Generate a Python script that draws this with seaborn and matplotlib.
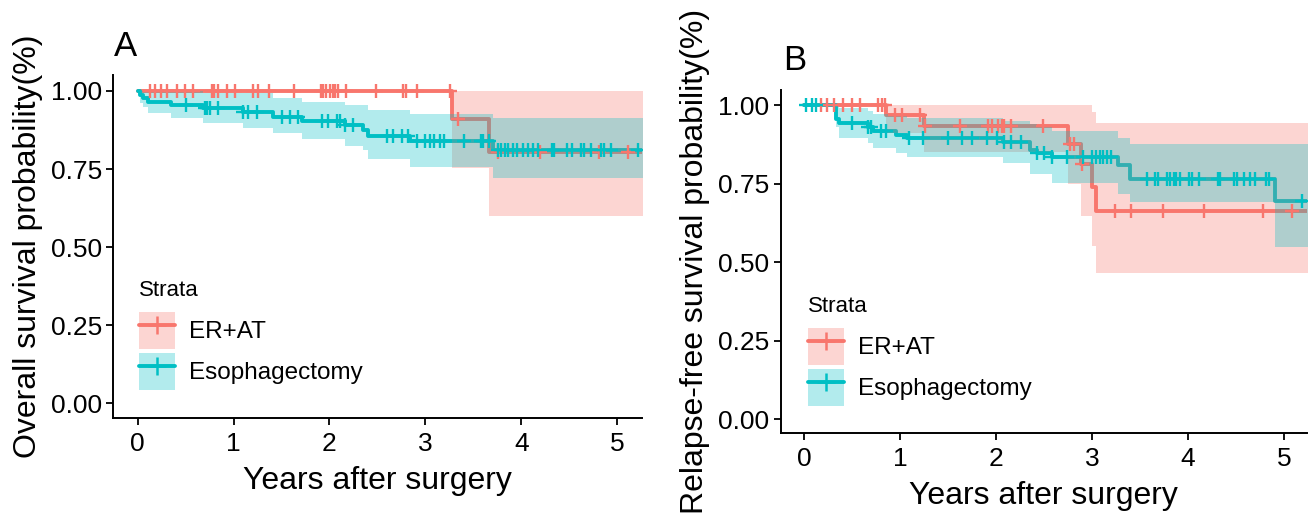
import numpy as np
import pandas as pd
import matplotlib
matplotlib.use("Agg")
import matplotlib.pyplot as plt
import seaborn as sns
from matplotlib.patches import Patch
from matplotlib.lines import Line2D
from matplotlib.legend_handler import HandlerTuple

sns.set_theme(style="ticks")
plt.rcParams["font.family"] = ["Liberation Sans", "DejaVu Sans"]
plt.rcParams["text.color"] = "black"
plt.rcParams["axes.labelcolor"] = "black"
plt.rcParams["xtick.color"] = "black"
plt.rcParams["ytick.color"] = "black"

groups = ["ER+AT", "Esophagectomy"]
colors = {"ER+AT": "#F8766D", "Esophagectomy": "#00BFC4"}
t_end = 5.3

# ---------------- Panel A: overall survival ----------------
os_er_time = [0, 3.28, 3.66]
os_er_surv = [1.0, 0.909, 0.805]
os_er_upper = [1.0, 1.0, 1.0]
os_er_lower = [1.0, 0.754, 0.60]
os_er_censor = [0.128, 0.180, 0.240, 0.302, 0.407, 0.493, 0.580, 0.771, 0.796,
                0.841, 0.928, 1.015, 1.199, 1.258, 1.372, 1.633, 1.911, 1.936,
                1.963, 2.005, 2.033, 2.057, 2.092, 2.172, 2.485, 2.770, 2.794,
                2.911, 3.257, 3.341, 3.757, 4.197, 4.813, 5.113]

os_es_time = [0, 0.02, 0.06, 0.11, 0.35, 0.68, 1.10, 1.41, 1.71, 2.16, 2.35, 2.40, 2.84, 3.70]
os_es_surv = [1.0, 0.987, 0.977, 0.966, 0.955, 0.944, 0.933, 0.918, 0.904, 0.891, 0.875, 0.856, 0.839, 0.810]
os_es_upper = [1.0, 1.0, 1.0, 1.0, 1.0, 0.992, 0.992, 0.976, 0.965, 0.955, 0.955, 0.939, 0.927, 0.912]
os_es_lower = [1.0, 0.96, 0.947, 0.93, 0.912, 0.898, 0.882, 0.864, 0.845, 0.825, 0.81, 0.781, 0.757, 0.72]
os_es_censor = [0.504, 0.702, 0.719, 0.754, 0.841, 1.101, 1.153, 1.241, 1.502, 1.588,
                1.675, 1.919, 1.988, 2.075, 2.109, 2.162, 2.248, 2.596, 2.665, 2.753,
                2.822, 2.911, 2.999, 3.045, 3.088, 3.157, 3.193, 3.405, 3.581, 3.599,
                3.668, 3.760, 3.792, 3.827, 3.862, 3.916, 3.951, 4.021, 4.074, 4.126,
                4.179, 4.320, 4.338, 4.479, 4.532, 4.619, 4.655, 4.726, 4.831, 4.867,
                4.936, 5.219]

# ---------------- Panel B: relapse-free survival ----------------
rfs_er_time = [0, 0.85, 1.25, 2.75, 2.89, 3.00, 3.04]
rfs_er_surv = [1.0, 0.968, 0.934, 0.876, 0.812, 0.738, 0.662]
rfs_er_upper = [1.0, 1.0, 1.0, 1.0, 1.0, 0.979, 0.944]
rfs_er_lower = [1.0, 0.91, 0.851, 0.75, 0.647, 0.551, 0.464]
rfs_er_censor = [0.18, 0.24, 0.31, 0.41, 0.50, 0.58, 0.77, 0.81, 0.84, 0.95, 1.02,
                 1.21, 1.26, 1.63, 1.92, 1.96, 2.02, 2.06, 2.08, 2.16, 2.49, 2.77,
                 2.81, 2.90, 3.24, 3.41, 3.74, 4.17, 4.78, 5.08]

rfs_es_time = [0, 0.33, 0.36, 0.67, 0.72, 0.96, 1.07, 2.07, 2.35, 2.43, 2.58, 3.27, 3.40, 4.91]
rfs_es_surv = [1.0, 0.957, 0.944, 0.931, 0.918, 0.906, 0.894, 0.882, 0.858, 0.846, 0.834, 0.809, 0.763, 0.693]
rfs_es_upper = [1.0, 0.995, 0.99, 0.98, 0.972, 0.965, 0.958, 0.95, 0.94, 0.93, 0.918, 0.895, 0.876, 0.876]
rfs_es_lower = [1.0, 0.93, 0.894, 0.878, 0.864, 0.848, 0.833, 0.814, 0.782, 0.782, 0.752, 0.717, 0.691, 0.548]
rfs_es_censor = [0.02, 0.08, 0.12, 0.50, 0.67, 0.70, 0.80, 0.85, 1.09, 1.24, 1.50, 1.65,
                 1.75, 1.91, 2.01, 2.08, 2.16, 2.26, 2.43, 2.50, 2.58, 2.74, 2.91, 3.00,
                 3.04, 3.08, 3.11, 3.16, 3.20, 3.57, 3.66, 3.69, 3.78, 3.81, 3.85, 3.87,
                 3.92, 4.01, 4.04, 4.11, 4.31, 4.33, 4.48, 4.51, 4.58, 4.65, 4.70, 4.81,
                 4.84, 5.19]

yticks = [0.0, 0.25, 0.50, 0.75, 1.0]
ytick_labels = ["0.00", "0.25", "0.50", "0.75", "1.00"]
xticks = [0, 1, 2, 3, 4, 5]

panels = [
    dict(letter="A", ylabel="Overall survival probability(%)",
         data={"ER+AT": (os_er_time, os_er_surv, os_er_upper, os_er_lower, os_er_censor),
               "Esophagectomy": (os_es_time, os_es_surv, os_es_upper, os_es_lower, os_es_censor)}),
    dict(letter="B", ylabel="Relapse-free survival probability(%)",
         data={"ER+AT": (rfs_er_time, rfs_er_surv, rfs_er_upper, rfs_er_lower, rfs_er_censor),
               "Esophagectomy": (rfs_es_time, rfs_es_surv, rfs_es_upper, rfs_es_lower, rfs_es_censor)}),
]

W, H = 1314, 513
fig = plt.figure(figsize=(W / 100, H / 100), dpi=100)

layout = [
    dict(rect=(113.3, 75, 641.7, 418.3), xlim=(-0.254, 5.255), ylim=(-0.048, 1.051),
         letter_xy=(114, 56), legend_xy=(139, 280)),
    dict(rect=(780.5, 90, 1307.3, 433.3), xlim=(-0.245, 5.243), ylim=(-0.0455, 1.048),
         letter_xy=(783, 70), legend_xy=(808, 296)),
]

for p, lay in zip(panels, layout):
    x0, y0, x1, y1 = lay["rect"]
    ax = fig.add_axes([x0 / W, 1 - y1 / H, (x1 - x0) / W, (y1 - y0) / H])

    rows, cens_rows = [], []
    for g in groups:
        t, s, up, lo, cens = p["data"][g]
        tt = list(t) + [t_end]
        ss = list(s) + [s[-1]]
        for a, b in zip(tt, ss):
            rows.append((g, a, b))
        idx = np.searchsorted(np.asarray(t), np.asarray(cens), side="right") - 1
        for c, i in zip(cens, idx):
            cens_rows.append((g, c, s[i]))
    df = pd.DataFrame(rows, columns=["group", "time", "surv"])
    cdf = pd.DataFrame(cens_rows, columns=["group", "time", "surv"])

    sns.lineplot(data=df, x="time", y="surv", hue="group", palette=colors,
                 hue_order=groups, estimator=None, drawstyle="steps-post",
                 linewidth=2.8, legend=False, ax=ax, zorder=2)
    for g in groups:
        t, s, up, lo, cens = p["data"][g]
        tt = list(t) + [t_end]
        ax.fill_between(tt, list(lo) + [lo[-1]], list(up) + [up[-1]], step="post",
                        color=colors[g], alpha=0.3, lw=0, zorder=3)
    for g in groups:
        sub = cdf[cdf.group == g]
        ax.plot(sub["time"], sub["surv"], linestyle="none", marker="+",
                markersize=10, markeredgewidth=1.7, color=colors[g], zorder=4)

    ax.set_xlim(*lay["xlim"])
    ax.set_ylim(*lay["ylim"])
    ax.set_xticks(xticks)
    ax.set_xticklabels([str(v) for v in xticks])
    ax.set_yticks(yticks)
    ax.set_yticklabels(ytick_labels)
    ax.tick_params(axis="both", labelsize=19, colors="black", length=5, width=1.3, pad=3)
    ax.tick_params(axis="x", pad=5)
    for sp in ["top", "right"]:
        ax.spines[sp].set_visible(False)
    for sp in ["left", "bottom"]:
        ax.spines[sp].set_color("black")
        ax.spines[sp].set_linewidth(1.4)
    ax.set_xlabel("Years after surgery", fontsize=23, color="black", labelpad=7)
    ax.set_ylabel(p["ylabel"], fontsize=23, color="black", labelpad=5.5)
    ax.grid(False)
    ax.set_facecolor("white")

    fig.text(lay["letter_xy"][0] / W, 1 - lay["letter_xy"][1] / H, p["letter"],
             fontsize=25, color="black", ha="left", va="baseline")

    handles = []
    for g in groups:
        handles.append((Patch(facecolor=colors[g], alpha=0.3, edgecolor="none"),
                        Line2D([], [], color=colors[g], lw=2.8, marker="+",
                               markersize=13, markeredgewidth=1.8)))
    leg = ax.legend(handles, groups, title="Strata", loc="upper left",
                    bbox_to_anchor=(lay["legend_xy"][0] / W, 1 - lay["legend_xy"][1] / H),
                    bbox_transform=fig.transFigure, frameon=False, fontsize=17.5,
                    title_fontsize=16, handlelength=1.5, handleheight=1.95,
                    labelspacing=0.17, handletextpad=0.55, borderpad=0,
                    borderaxespad=0, alignment="left",
                    handler_map={tuple: HandlerTuple(ndivide=1, pad=0)})
    for txt in leg.get_texts():
        txt.set_color("black")
    leg.get_title().set_color("black")
    try:
        leg._legend_box.sep = 8
    except Exception:
        pass

fig.savefig("out.png", dpi=100, facecolor="white")
